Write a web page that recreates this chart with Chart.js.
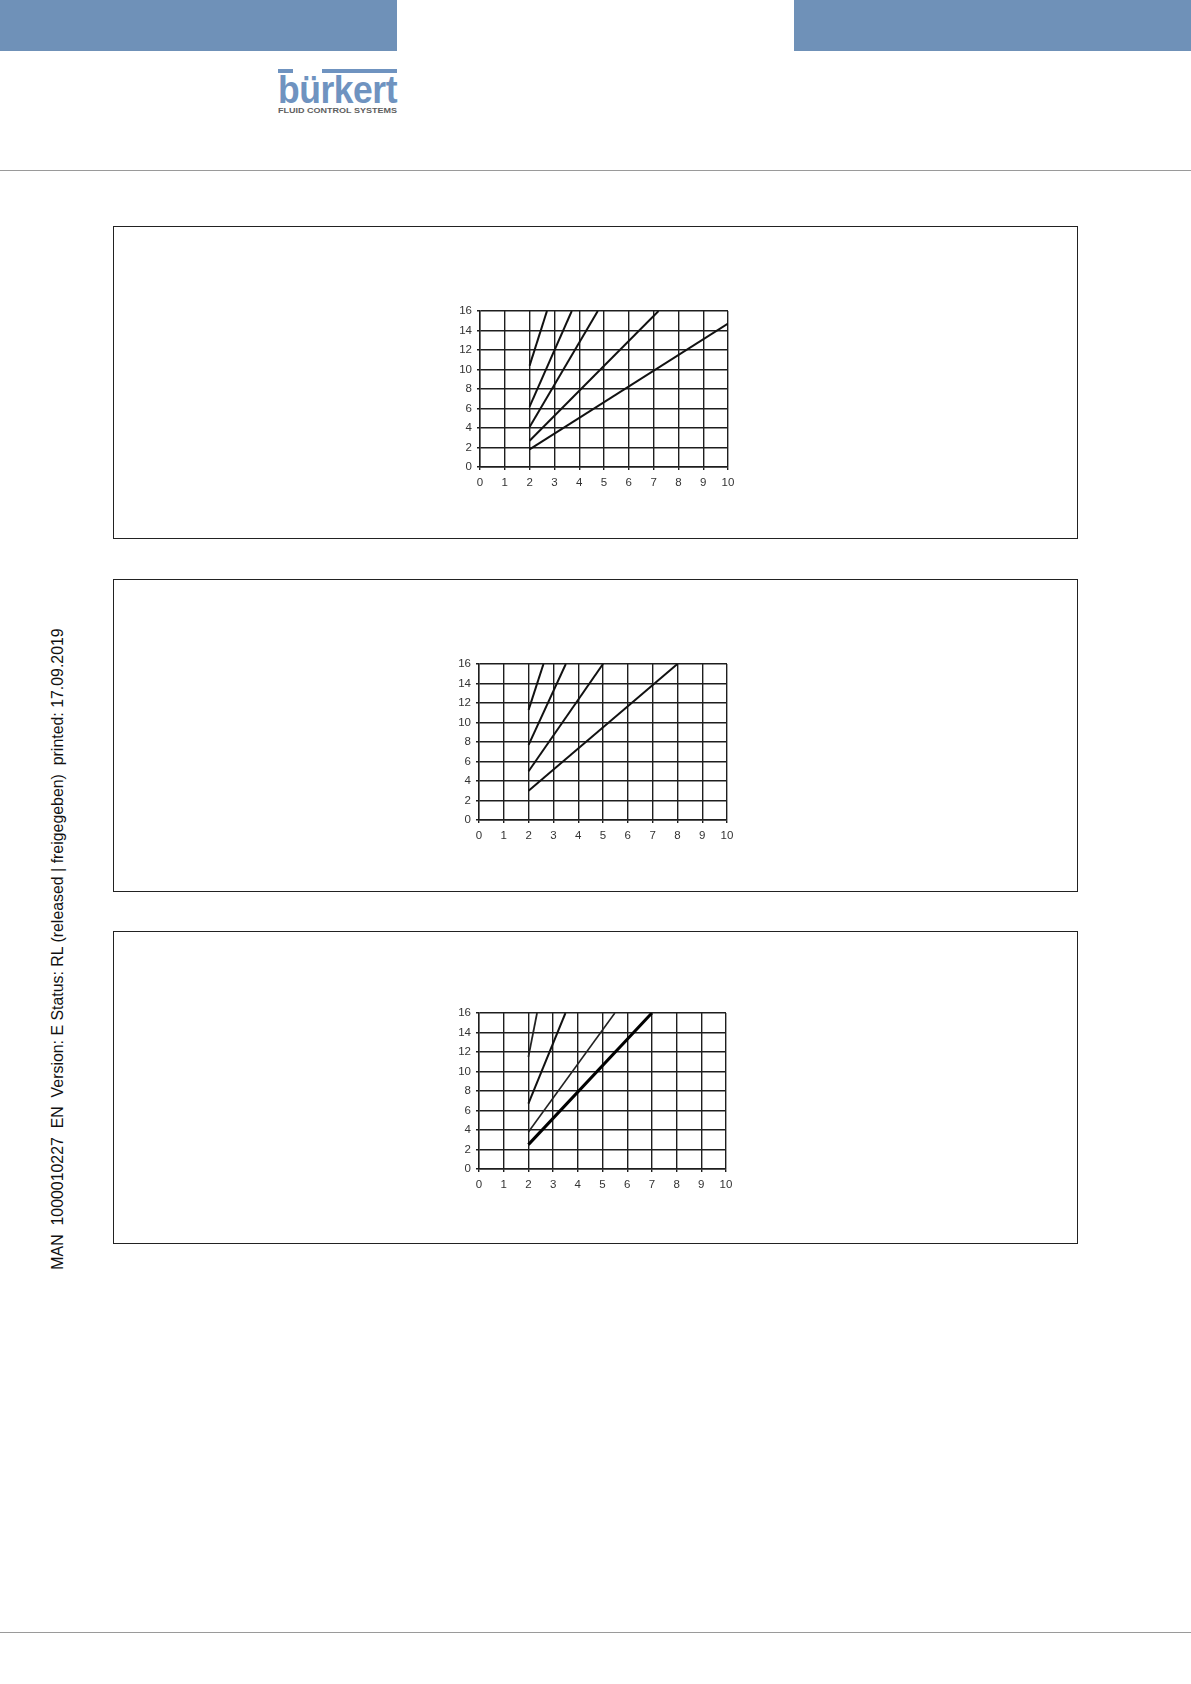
<!DOCTYPE html>
<html><head><meta charset="utf-8">
<script src="https://cdn.jsdelivr.net/npm/chart.js@4.4.1/dist/chart.umd.min.js"></script>
<style>
html,body{margin:0;padding:0;background:#fff;}
body{width:1191px;height:1684px;position:relative;overflow:hidden;font-family:"Liberation Sans",Arial,sans-serif;}
.bar{position:absolute;top:0;height:51px;background:#6f91b8;}
.hline{position:absolute;left:0;width:1191px;height:1px;background:#9a9a9a;}
.box{position:absolute;left:113px;width:965px;border:1.3px solid #222;box-sizing:border-box;}
.lbar{position:absolute;top:69px;height:4px;background:#6f93c0;}
#logo{position:absolute;left:278px;top:75px;font-size:38px;line-height:30px;font-weight:bold;color:#6f93c0;white-space:nowrap;transform-origin:0 0;letter-spacing:-0.5px;}
#tag{position:absolute;left:278px;top:106px;font-size:8px;line-height:10px;font-weight:bold;color:#5e5e5e;white-space:nowrap;transform-origin:0 0;}
#side{position:absolute;white-space:pre;font-size:14px;line-height:16px;color:#111;transform-origin:50% 50%;}
canvas{position:absolute;}
</style></head>
<body>
<div class="bar" style="left:0;width:397px;"></div>
<div class="bar" style="left:794px;width:397px;"></div>
<div class="lbar" style="left:278px;width:15px;"></div>
<div class="lbar" style="left:322px;width:75px;"></div>
<div id="logo">bürkert</div>
<div id="tag">FLUID CONTROL SYSTEMS</div>
<div class="hline" style="top:170px;"></div>
<div class="hline" style="top:1632px;"></div>
<div id="side">MAN  1000010227  EN  Version: E Status: RL (released | freigegeben)  printed: 17.09.2019</div>

<div class="box" style="top:226px;height:313px;"></div>
<div class="box" style="top:579px;height:313px;"></div>
<div class="box" style="top:931px;height:313px;"></div>

<canvas id="c1"></canvas>
<canvas id="c2"></canvas>
<canvas id="c3"></canvas>

<script>
const xTickValues = [0,1,2,3,4,5,6,7,8,9,10];
const yTickValues = [0,2,4,6,8,10,12,14,16];

// Chart 1
const c1StartX = [2, 2, 2, 2, 2];
const c1StartY = [10.4, 6.2, 4.1, 2.7, 1.8];
const c1EndX   = [2.7, 3.7, 4.75, 7.2, 10];
const c1EndY   = [16, 16, 16, 16, 14.7];

// Chart 2
const c2StartX = [2, 2, 2, 2];
const c2StartY = [11.3, 7.7, 5.0, 3.0];
const c2EndX   = [2.6, 3.5, 5.0, 8.0];
const c2EndY   = [16, 16, 16, 16];

// Chart 3
const c3StartX = [2, 2, 2, 2];
const c3StartY = [11.5, 6.7, 3.8, 2.5];
const c3EndX   = [2.35, 3.5, 5.5, 7.0];
const c3EndY   = [16, 16, 16, 16];

function fitWidth(el, w) {
  const r = el.getBoundingClientRect();
  el.style.transform = 'scaleX(' + (w / r.width) + ')';
}
fitWidth(document.getElementById('logo'), 119);
fitWidth(document.getElementById('tag'), 119);

(function(){
  const s = document.getElementById('side');
  const w0 = s.getBoundingClientRect().width;
  s.style.fontSize = (14 * 642 / w0) + 'px';
  const r = s.getBoundingClientRect();
  s.style.left = (58 - r.width/2) + 'px';
  s.style.top = (949 - r.height/2) + 'px';
  s.style.transform = 'rotate(-90deg)';
})();

function drawChart(id, area, sx, sy, ex, ey, widths, colors) {
  const cv = document.getElementById(id);
  const W = area.r - area.l + 80, H = area.b - area.t + 76;
  cv.width = W; cv.height = H;
  cv.style.width = W + 'px'; cv.style.height = H + 'px';
  cv.style.left = (area.l - 60) + 'px'; cv.style.top = (area.t - 21) + 'px';
  const datasets = sx.map((_, i) => ({
    data: [{x: sx[i], y: sy[i]}, {x: ex[i], y: ey[i]}],
    borderColor: colors[i], borderWidth: widths[i],
    pointRadius: 0, tension: 0, fill: false, borderCapStyle: 'butt'
  }));
  const gridCol = '#1e1e1e';
  const tickFont = {family: 'Liberation Sans', size: 11.5};
  new Chart(cv, {
    type: 'line',
    data: {datasets},
    options: {
      responsive: false, animation: false, devicePixelRatio: 1,
      layout: {padding: {left: 20, top: 21, right: 20, bottom: 30}},
      plugins: {legend: {display: false}, tooltip: {enabled: false}},
      scales: {
        x: {
          type: 'linear', min: 0, max: 10,
          afterBuildTicks: s => { s.ticks = xTickValues.map(v => ({value: v})); },
          afterFit: s => { s.height = 25; },
          grid: {color: gridCol, lineWidth: 1.4, tickLength: 3},
          border: {color: gridCol, width: 1.4},
          ticks: {padding: 6, color: '#333', font: tickFont, maxRotation: 0, autoSkip: false}
        },
        y: {
          type: 'linear', min: 0, max: 16,
          afterBuildTicks: s => { s.ticks = yTickValues.map(v => ({value: v})); },
          afterFit: s => { s.width = 40; },
          grid: {color: gridCol, lineWidth: 1.4, tickLength: 3},
          border: {color: gridCol, width: 1.4},
          ticks: {padding: 5, color: '#333', font: tickFont, autoSkip: false}
        }
      }
    }
  });
}

drawChart('c1', {l: 480, r: 728, t: 311, b: 467}, c1StartX, c1StartY, c1EndX, c1EndY,
  [2, 2, 2, 2, 2], ['#111', '#111', '#111', '#111', '#111']);
drawChart('c2', {l: 479, r: 727, t: 664, b: 820}, c2StartX, c2StartY, c2EndX, c2EndY,
  [2, 2, 2, 2], ['#111', '#111', '#111', '#111']);
drawChart('c3', {l: 479, r: 726, t: 1013, b: 1169}, c3StartX, c3StartY, c3EndX, c3EndY,
  [1.8, 2, 1.6, 3], ['#222', '#111', '#222', '#000']);
</script>
</body></html>
